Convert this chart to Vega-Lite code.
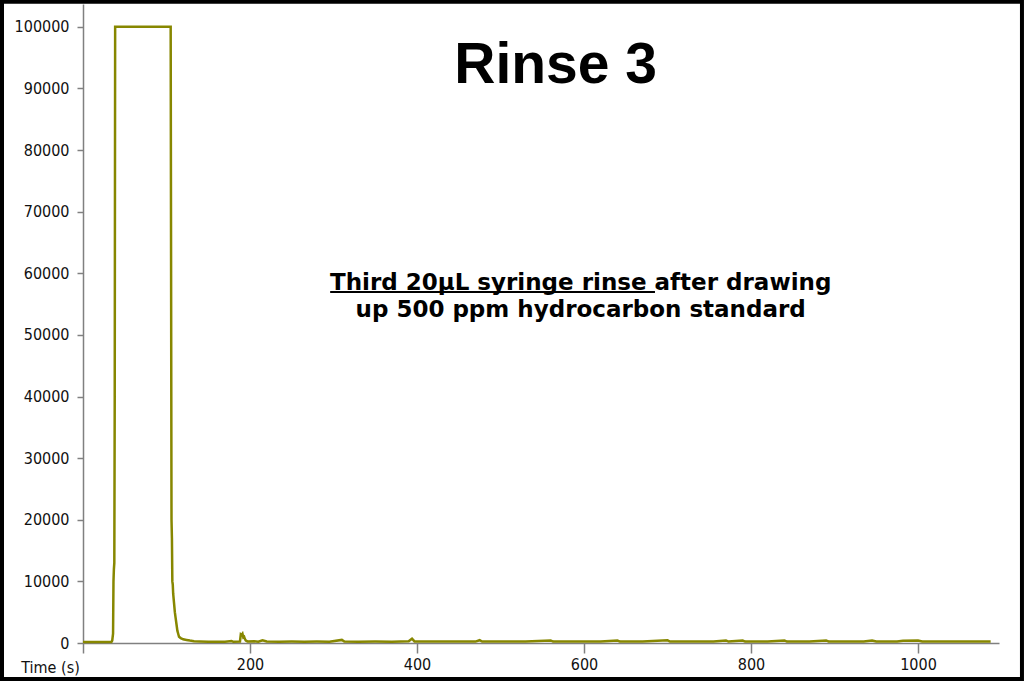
{
  "$schema": "https://vega.github.io/schema/vega-lite/v6.json",
  "width": 916,
  "height": 639,
  "autosize": {"type": "none"},
  "padding": {"left": 83, "top": 4, "right": 25, "bottom": 38},
  "background": "white",
  "config": {
    "view": {"stroke": null},
    "axis": {
      "labelFont": "Tahoma, DejaVu Sans Condensed, Liberation Sans",
      "titleFont": "Tahoma, DejaVu Sans Condensed, Liberation Sans",
      "labelFontSize": 16,
      "titleFontSize": 16,
      "labelColor": "#111111",
      "titleColor": "#111111",
      "domainColor": "#808080",
      "tickColor": "#808080",
      "domainWidth": 1.5,
      "tickWidth": 1.5,
      "grid": false
    }
  },
  "layer": [
    {
      "data": {
        "values": [
          {"t": 0, "v": 150}, {"t": 10, "v": 160}, {"t": 20, "v": 150}, {"t": 30, "v": 160},
          {"t": 34, "v": 170}, {"t": 35, "v": 400}, {"t": 36, "v": 1500}, {"t": 36.5, "v": 10000},
          {"t": 37, "v": 12000}, {"t": 37.5, "v": 13000}, {"t": 38, "v": 40000}, {"t": 38.5, "v": 100000},
          {"t": 105, "v": 100000}, {"t": 105.5, "v": 60000}, {"t": 106, "v": 20000}, {"t": 106.5, "v": 17000},
          {"t": 107, "v": 10000}, {"t": 107.5, "v": 9500}, {"t": 108, "v": 8000}, {"t": 109, "v": 6500},
          {"t": 110, "v": 5000}, {"t": 111, "v": 4000}, {"t": 112, "v": 3000}, {"t": 113, "v": 2000},
          {"t": 114, "v": 1500}, {"t": 115, "v": 1000}, {"t": 117, "v": 800}, {"t": 120, "v": 600},
          {"t": 124, "v": 500}, {"t": 128, "v": 400}, {"t": 133, "v": 300}, {"t": 140, "v": 250},
          {"t": 150, "v": 200}, {"t": 160, "v": 220}, {"t": 170, "v": 200}, {"t": 178, "v": 320},
          {"t": 180, "v": 200}, {"t": 188, "v": 250}, {"t": 189, "v": 1400}, {"t": 190, "v": 1300},
          {"t": 191, "v": 1500}, {"t": 192, "v": 900}, {"t": 193, "v": 1000}, {"t": 194, "v": 600},
          {"t": 195, "v": 400}, {"t": 197, "v": 250}, {"t": 205, "v": 300}, {"t": 210, "v": 200},
          {"t": 215, "v": 450}, {"t": 220, "v": 250}, {"t": 235, "v": 220}, {"t": 250, "v": 230},
          {"t": 265, "v": 220}, {"t": 280, "v": 230}, {"t": 295, "v": 220}, {"t": 310, "v": 500},
          {"t": 313, "v": 230}, {"t": 330, "v": 220}, {"t": 350, "v": 240}, {"t": 370, "v": 220},
          {"t": 390, "v": 300}, {"t": 394, "v": 700}, {"t": 397, "v": 260}, {"t": 420, "v": 230},
          {"t": 445, "v": 240}, {"t": 470, "v": 230}, {"t": 475, "v": 450}, {"t": 478, "v": 230},
          {"t": 500, "v": 240}, {"t": 530, "v": 230}, {"t": 560, "v": 420}, {"t": 563, "v": 230},
          {"t": 590, "v": 240}, {"t": 620, "v": 230}, {"t": 640, "v": 400}, {"t": 643, "v": 230},
          {"t": 670, "v": 240}, {"t": 700, "v": 430}, {"t": 703, "v": 230}, {"t": 730, "v": 240},
          {"t": 755, "v": 230}, {"t": 770, "v": 420}, {"t": 773, "v": 230}, {"t": 790, "v": 400},
          {"t": 793, "v": 230}, {"t": 820, "v": 240}, {"t": 840, "v": 420}, {"t": 843, "v": 230},
          {"t": 870, "v": 240}, {"t": 890, "v": 420}, {"t": 893, "v": 230}, {"t": 935, "v": 240},
          {"t": 945, "v": 400}, {"t": 950, "v": 230}, {"t": 975, "v": 240}, {"t": 982, "v": 380},
          {"t": 1000, "v": 400}, {"t": 1005, "v": 230}, {"t": 1030, "v": 240}, {"t": 1060, "v": 230},
          {"t": 1087, "v": 230}
        ]
      },
      "mark": {"type": "line", "color": "#878700", "strokeWidth": 2.5, "clip": false},
      "encoding": {
        "x": {
          "field": "t",
          "type": "quantitative",
          "scale": {"domain": [0, 1097], "nice": false, "zero": false},
          "axis": {
            "values": [0, 200, 400, 600, 800, 1000],
            "format": "d",
            "labelExpr": "datum.value == 0 ? '' : datum.label",
            "tickSize": 10,
            "labelPadding": 3,
            "title": "Time (s)",
            "titleX": -33,
            "titleY": 29,
            "titleAlign": "center",
            "titleBaseline": "alphabetic",
            "titleFontWeight": "normal"
          }
        },
        "y": {
          "field": "v",
          "type": "quantitative",
          "scale": {"domain": [0, 103700], "nice": false},
          "axis": {
            "values": [0, 10000, 20000, 30000, 40000, 50000, 60000, 70000, 80000, 90000, 100000],
            "format": "d",
            "tickSize": 6,
            "labelPadding": 8,
            "title": null
          }
        }
      }
    },
    {
      "data": {"values": [{}]},
      "mark": {"type": "text", "text": "Rinse 3", "font": "Liberation Sans", "fontSize": 57, "fontWeight": "bold", "align": "center", "baseline": "alphabetic", "color": "black"},
      "encoding": {
        "x": {"datum": 566, "type": "quantitative"},
        "y": {"datum": 90900, "type": "quantitative"}
      }
    },
    {
      "data": {"values": [{}]},
      "mark": {"type": "text", "text": "Third 20µL syringe rinse after drawing", "font": "DejaVu Sans", "fontSize": 23, "fontWeight": "bold", "align": "center", "baseline": "alphabetic", "color": "black"},
      "encoding": {
        "x": {"datum": 596, "type": "quantitative"},
        "y": {"datum": 57300, "type": "quantitative"}
      }
    },
    {
      "data": {"values": [{}]},
      "mark": {"type": "text", "text": "up 500 ppm hydrocarbon standard", "font": "DejaVu Sans", "fontSize": 23, "fontWeight": "bold", "align": "center", "baseline": "alphabetic", "color": "black"},
      "encoding": {
        "x": {"datum": 596, "type": "quantitative"},
        "y": {"datum": 52900, "type": "quantitative"}
      }
    },
    {
      "data": {"values": [{}]},
      "mark": {"type": "rule", "color": "black", "strokeWidth": 2},
      "encoding": {
        "x": {"datum": 296, "type": "quantitative"},
        "x2": {"datum": 685},
        "y": {"datum": 56980, "type": "quantitative"}
      }
    },
    {
      "data": {"values": [{}]},
      "mark": {"type": "rect", "fill": null, "fillOpacity": 0, "stroke": "black", "strokeWidth": 4, "clip": false},
      "encoding": {
        "x": {"datum": -97, "type": "quantitative"},
        "x2": {"datum": 1124.5},
        "y": {"datum": 104058, "type": "quantitative"},
        "y2": {"datum": -5844}
      }
    }
  ]
}
